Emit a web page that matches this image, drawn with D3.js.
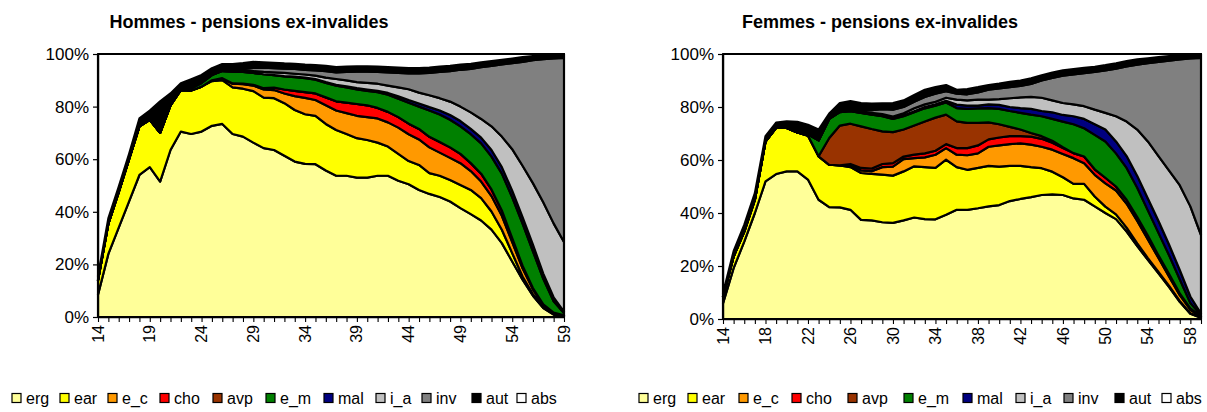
<!DOCTYPE html>
<html><head><meta charset="utf-8">
<script src="https://cdn.jsdelivr.net/npm/d3@7"></script>
<style>body{margin:0;background:#fff}svg{display:block}</style>
</head><body>
<svg id="c" width="1207" height="412"></svg>
<script>
// ---------- DATA ----------
const ages = [14,15,16,17,18,19,20,21,22,23,24,25,26,27,28,29,30,31,32,33,34,35,36,37,38,39,40,41,42,43,44,45,46,47,48,49,50,51,52,53,54,55,56,57,58,59];
const seriesKeys = ["erg","ear","e_c","cho","avp","e_m","mal","i_a","inv","aut","abs"];
const seriesColors = ["#FFFF99","#FFFF00","#FF9900","#FF0000","#993300","#008000","#000080","#C0C0C0","#808080","#000000","#FFFFFF"];
const yTickValues = [0,20,40,60,80,100];
const menTickAges = [14,19,24,29,34,39,44,49,54,59];
const womTickAges = [14,18,22,26,30,34,38,42,46,50,54,58];
const menTitle = "Hommes - pensions ex-invalides";
const womTitle = "Femmes - pensions ex-invalides";

// Hommes (% by age)
const menErg = [8.5,24.0,34.0,44.0,54.0,57.0,51.5,63.5,70.5,69.6,70.5,72.7,73.4,69.6,68.6,66.3,64.2,63.5,61.3,59.1,58.2,58.1,55.7,53.7,53.7,53.0,53.0,53.7,53.7,51.8,50.5,48.3,46.8,45.6,43.9,41.4,39.1,36.7,33.2,28.1,21.1,14.2,8.1,3.4,0.9,0.2];
const menEar = [5.5,11.5,13.5,16.0,18.5,18.0,18.5,17.0,15.8,16.5,17.1,17.0,16.7,17.7,18.2,19.6,19.2,19.7,20.0,19.6,18.9,18.4,17.7,17.4,15.9,15.0,14.3,12.6,11.1,10.2,8.8,9.5,7.9,8.1,8.2,8.8,9.2,8.5,6.9,5.1,3.2,1.2,0.6,0.4,0.2,0.1];
const menEc  = [0,0,0,0,0,0,0,0,0,0,0,0.3,0.7,1.4,1.7,2.1,3.1,3.1,3.7,5.3,6.2,6.0,7.1,7.4,7.9,8.5,8.7,9.2,9.2,10.0,10.2,9.7,9.8,8.8,8.4,8.3,7.2,6.3,5.9,5.3,4.2,3.1,1.8,0.7,0.4,0.2];
const menCho = [0,0,0,0,0,0,0,0,0,0,0,0,0,0.1,0.2,0.3,0.5,0.9,1.5,2.0,2.2,2.5,3.0,3.5,4.0,4.5,4.5,4.0,4.0,4.0,4.0,4.0,4.0,4.0,4.0,3.5,3.0,3.0,2.5,2.0,1.5,1.0,0.5,0.3,0.2,0.1];
const menAvp = [0,0,0,0,0,0,0,0,0,0,0,0,0,0,0,0,0,0,0,0,0,0,0,0,0,0,0,0,0,0,0,0,0,0,0,0,0,0,0,0,0,0,0,0,0,0];
const menEm  = [0,0,0,0,0,0,0,0,0.2,0.9,1.4,2.0,2.7,4.5,4.5,4.5,5.3,4.8,5.0,5.2,5.3,5.2,5.5,6.0,5.8,5.5,5.5,6.0,6.5,7.0,8.0,8.5,10.0,10.5,10.5,10.5,11.0,11.5,12.5,14.0,15.5,16.0,14.0,9.7,4.3,0.9];
const menMal = [0,0,0,0,0,0,0,0,0,0,0,0,0,0,0,0,0,0,0.1,0.2,0.2,0.3,0.3,0.3,0.4,0.5,0.5,0.5,0.7,0.9,1.0,1.2,1.3,1.5,1.8,2.0,2.0,2.2,2.5,2.5,2.5,2.5,2.5,2.0,1.5,0.5];
const menIa  = [0,0,0,0,0,0,0,0,0,0,0,0,0.1,0.3,0.6,0.7,0.9,1.0,1.2,1.1,1.2,1.3,1.7,2.2,2.3,2.3,2.5,2.7,2.8,3.4,4.1,4.1,4.5,4.7,5.1,5.5,6.3,7.1,9.0,11.6,15.8,19.5,23.4,27.1,28.1,26.5];
const menInv = [0,0,0,0,0,0,0,0,0,0,0.2,0.3,0.2,0.4,0.5,1.2,1.6,1.6,1.6,1.8,1.8,2.0,2.5,2.5,3.2,4.0,4.3,4.5,5.0,5.5,6.0,7.3,8.5,10.0,11.6,14.0,16.5,19.7,23.0,27.4,32.7,39.5,46.8,54.4,62.7,70.0];
const menAut = [1.5,2.0,2.0,2.0,3.0,3.5,12.0,4.5,2.4,3.4,2.8,2.3,2.4,2.2,2.2,2.3,2.0,2.0,2.0,2.0,2.0,2.0,2.0,2.0,2.0,2.0,2.0,2.0,2.0,2.0,2.0,2.0,2.0,2.0,2.0,2.0,2.0,1.8,1.8,1.8,1.8,1.8,1.5,1.5,1.5,1.5];
const menAbs = [84.5,62.5,50.5,38.0,24.5,21.5,18.0,15.0,11.1,9.6,8.0,5.4,3.8,3.8,3.5,3.0,3.2,3.4,3.6,3.7,4.0,4.2,4.5,5.0,4.8,4.7,4.7,4.8,5.0,5.2,5.4,5.4,5.2,4.8,4.5,4.0,3.7,3.2,2.7,2.2,1.7,1.2,0.8,0.5,0.2,0.0];

// Femmes (% by age)
const womErg = [5.9,19.2,29.2,40.0,51.9,54.7,55.7,55.7,52.6,45.0,42.2,42.1,41.2,37.4,37.2,36.5,36.3,37.2,38.3,37.7,37.6,39.3,41.2,41.2,41.8,42.5,43.0,44.5,45.3,46.0,46.8,47.0,46.8,45.5,45.0,42.5,40.0,37.7,33.0,27.5,22.3,17.2,12.0,6.5,2.0,0.5];
const womEar = [2.5,4.4,3.8,5.0,15.1,17.4,16.4,14.7,16.6,16.4,16.0,15.9,16.1,17.7,17.6,18.0,17.8,18.5,19.3,19.6,19.4,20.8,16.1,15.1,15.2,15.3,14.5,13.3,12.5,11.3,10.1,8.6,6.7,5.5,6.0,3.7,2.4,1.8,1.5,1.0,0.7,0.6,0.5,0.3,0.2,0.1];
const womEc  = [0,0,0,0,0,0,0,0,0,0,0,0,0.7,1.0,1.0,2.8,3.4,4.6,3.1,3.7,5.0,4.4,4.7,5.5,5.5,7.2,8.0,8.2,8.5,8.5,8.1,8.3,8.8,9.7,7.8,8.2,8.8,9.0,9.0,8.5,7.0,5.2,3.5,2.2,1.3,0.2];
const womCho = [0,0,0,0,0,0,0,0,0,0,0,0,0.5,0.9,1.0,1.2,1.3,1.0,1.3,1.5,1.5,1.5,2.5,2.7,3.0,2.8,3.0,3.0,2.7,3.0,3.0,2.6,2.2,1.9,2.5,2.1,2.1,1.5,1.5,1.5,1.5,1.0,1.0,0.7,0.5,0.2];
const womAvp = [0,0,0,0,0,0,0,0,0,0,10.1,15.0,15.2,15.7,14.9,12.3,11.7,10.2,11.0,12.0,12.5,11.1,10.1,9.5,8.5,6.4,5.0,3.5,2.5,1.4,1.0,0.8,0.3,0,0,0,0,0,0,0,0,0,0,0,0,0];
const womEm  = [0,0,0,0,0,0,0,0,0.5,6.0,7.2,5.1,4.7,5.1,5.4,5.7,5.0,5.0,5.0,5.0,4.5,4.6,5.0,5.3,5.5,5.4,5.8,6.0,6.3,6.9,7.5,8.2,9.7,10.9,10.7,13.0,13.7,12.5,12.0,11.0,9.5,8.5,7.0,5.3,2.0,0.5];
const womMal = [0,0,0,0,0,0,0,0,0,0,0,0,0,0,0.1,0.1,0.2,0.3,0.4,0.5,0.5,0.6,1.3,1.2,1.0,1.4,1.5,1.5,1.8,2.2,2.0,2.5,2.5,3.0,3.5,4.0,4.5,4.5,4.5,4.5,4.5,4.5,4.0,3.5,2.5,0.5];
const womIa  = [0,0,0,0,0,0,0,0,0,0,0,0.1,0.2,0.4,0.6,0.7,0.7,0.8,1.1,1.0,1.0,1.2,1.9,2.0,2.3,1.8,2.2,3.3,4.0,4.5,5.0,4.5,4.5,4.5,4.8,5.5,6.3,9.5,13.0,17.5,21.5,24.5,28.0,32.0,34.0,29.7];
const womInv = [0,0,0,0,0,0,0,0,0,0,0,0.3,0.4,0.6,1.0,1.9,2.6,2.4,2.5,2.8,3.0,2.5,2.2,2.3,2.7,3.7,4.0,4.2,4.4,4.9,6.5,8.5,10.3,11.3,12.5,14.2,16.0,18.0,20.8,24.5,29.5,35.5,41.5,47.5,55.8,66.8];
const womAut = [1.2,2.0,2.5,2.5,2.0,2.0,2.5,4.0,3.6,4.1,2.0,3.0,3.2,2.7,2.5,2.2,2.5,2.5,2.5,2.7,2.5,2.3,1.5,2.0,2.0,1.8,1.8,2.0,2.0,2.1,2.0,2.0,2.0,2.0,2.0,2.0,2.0,2.0,2.0,2.0,1.9,1.8,1.7,1.6,1.5,1.5];
const womAbs = [90.4,74.4,64.5,52.5,31.0,25.9,25.4,25.6,26.7,28.5,22.5,18.5,17.8,18.5,18.7,18.6,18.5,17.5,15.5,13.5,12.5,11.7,13.5,13.2,12.5,11.7,11.2,10.5,10.0,9.2,8.0,7.0,6.2,5.7,5.2,4.8,4.2,3.5,2.7,2.0,1.6,1.2,0.8,0.4,0.2,0.0];

const menSeries = [menErg,menEar,menEc,menCho,menAvp,menEm,menMal,menIa,menInv,menAut,menAbs];
const womSeries = [womErg,womEar,womEc,womCho,womAvp,womEm,womMal,womIa,womInv,womAut,womAbs];

// ---------- DRAW ----------
const svg = d3.select("#c");
const FONT = "'Liberation Sans', Arial, sans-serif";

function drawChart(cfg){
  const rows = ages.map((a,i)=>{
    const r = {age:a};
    seriesKeys.forEach((k,j)=>{ r[k] = cfg.series[j][i]; });
    return r;
  });
  const stacked = d3.stack().keys(seriesKeys)(rows);
  const x = d3.scaleLinear().domain([ages[0], ages[ages.length-1]]).range([cfg.x0, cfg.x1]);
  const y = d3.scaleLinear().domain([0,100]).range([cfg.yB, cfg.yT]).clamp(true);
  const g = svg.append("g");

  const area = d3.area()
    .x(d=>x(d.data.age))
    .y0(d=>y(d[0]))
    .y1(d=>y(d[1]));

  g.selectAll("path.layer").data(stacked).join("path")
    .attr("class","layer")
    .attr("d",area)
    .attr("fill",(d,i)=>seriesColors[i])
    .attr("stroke","#000")
    .attr("stroke-width",2.2)
    .attr("stroke-linejoin","round");

  // plot frame
  g.append("rect").attr("x",cfg.x0).attr("y",cfg.yT)
    .attr("width",cfg.x1-cfg.x0).attr("height",cfg.yB-cfg.yT)
    .attr("fill","none").attr("stroke","#000").attr("stroke-width",1.3);

  // y axis
  const ya = g.append("g").attr("transform",`translate(${cfg.x0},0)`)
    .call(d3.axisLeft(y).tickValues(yTickValues).tickFormat(d=>d+"%").tickSize(5).tickSizeOuter(0).tickPadding(4));
  ya.select(".domain").attr("stroke","#000").attr("stroke-width",1.3);
  ya.selectAll(".tick line").attr("stroke","#000").attr("stroke-width",1.2);
  ya.selectAll("text").attr("font-family",FONT).attr("font-size",17).attr("fill","#000");

  // x axis (tick every age, label selected ages)
  const xa = g.append("g").attr("transform",`translate(0,${cfg.yB})`)
    .call(d3.axisBottom(x).tickValues(ages).tickSize(5).tickSizeOuter(0).tickFormat(""));
  xa.select(".domain").attr("stroke","#000").attr("stroke-width",1.3);
  xa.selectAll(".tick line").attr("stroke","#000").attr("stroke-width",1.1);

  g.selectAll("text.xl").data(cfg.tickAges).join("text")
    .attr("class","xl")
    .attr("transform",d=>`translate(${x(d)},${cfg.yB+8}) rotate(-90)`)
    .attr("text-anchor","end")
    .attr("dy","0.35em")
    .attr("font-family",FONT).attr("font-size",16).attr("fill","#000")
    .text(d=>d);

  // title
  g.append("text").attr("x",cfg.titleX).attr("y",28)
    .attr("text-anchor","middle")
    .attr("font-family",FONT).attr("font-weight","bold").attr("font-size",18)
    .attr("fill","#000")
    .text(cfg.title);

  // legend
  const lg = g.append("g");
  seriesKeys.forEach((k,i)=>{
    const lx = cfg.legendX[i];
    lg.append("rect").attr("x",lx).attr("y",393.5).attr("width",9).attr("height",9)
      .attr("fill",seriesColors[i]).attr("stroke","#000").attr("stroke-width",1.2);
    lg.append("text").attr("x",lx+14).attr("y",404)
      .attr("font-family",FONT).attr("font-size",16).attr("fill","#000")
      .text(k);
  });
}

drawChart({series:menSeries, x0:98, x1:564, yT:54, yB:317, tickAges:menTickAges,
  title:menTitle, titleX:249, legendX:[12,60,108,160,213,266,324,376,422,472,517]});
drawChart({series:womSeries, x0:723, x1:1201, yT:54, yB:319, tickAges:womTickAges,
  title:womTitle, titleX:880, legendX:[639,688,739,792,848,904,963,1016,1064,1115,1162]});
</script>
</body></html>
